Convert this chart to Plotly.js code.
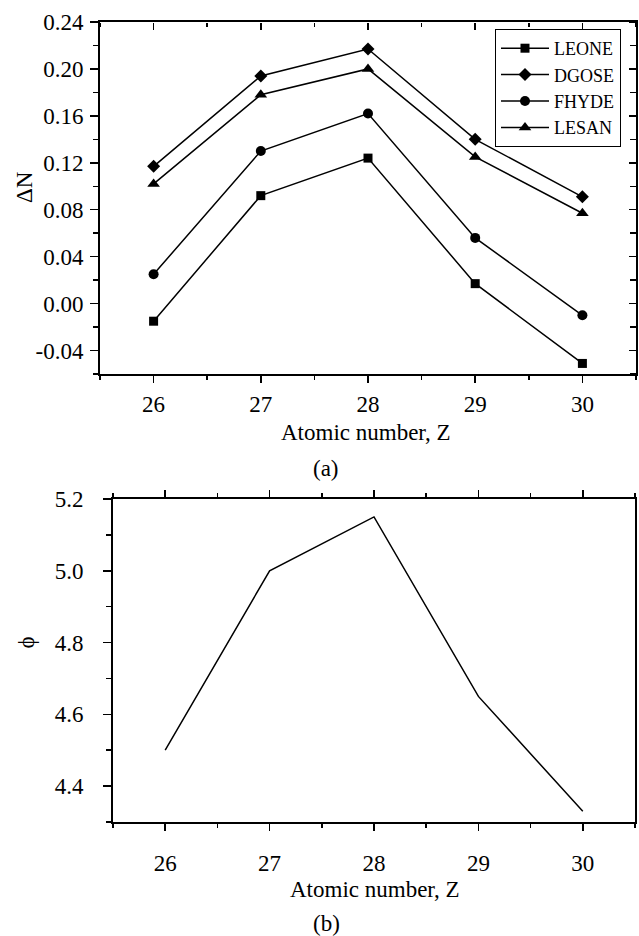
<!DOCTYPE html>
<html>
<head>
<meta charset="utf-8">
<script src="https://cdn.plot.ly/plotly-3.0.1.min.js"></script>
<style>html,body{margin:0;padding:0;background:#fff;}#chart{width:639px;height:936px;}</style>
</head>
<body>
<div id="chart"></div>
<script>
// ---- data ----
const atomicNumber = [26, 27, 28, 29, 30];
const zTickText = ['26', '27', '28', '29', '30'];

const seriesNames = ['LEONE', 'DGOSE', 'FHYDE', 'LESAN'];
const leone = [-0.015, 0.092, 0.124, 0.017, -0.051];
const dgose = [0.117, 0.194, 0.217, 0.140, 0.091];
const fhyde = [0.025, 0.130, 0.162, 0.056, -0.010];
const lesan = [0.102, 0.178, 0.200, 0.125, 0.077];

const dnTickVals = [-0.04, 0.00, 0.04, 0.08, 0.12, 0.16, 0.20, 0.24];
const dnTickText = ['-0.04', '0.00', '0.04', '0.08', '0.12', '0.16', '0.20', '0.24'];

const phi = [4.50, 5.00, 5.15, 4.65, 4.33];
const phiTickVals = [4.4, 4.6, 4.8, 5.0, 5.2];
const phiTickText = ['4.4', '4.6', '4.8', '5.0', '5.2'];

// ---- styling ----
const FONT = 'Liberation Serif, Times New Roman, serif';
const W = 639, H = 936;
const px = v => v / W;
const py = v => 1 - v / H;

const symbols = ['square', 'diamond', 'circle', 'triangle-up'];
const sizes = [9, 10, 10, 11];
const values = [leone, dgose, fhyde, lesan];

const traces = values.map((vals, i) => ({
  type: 'scatter', mode: 'lines+markers',
  x: atomicNumber, y: vals, name: seriesNames[i],
  xaxis: 'x', yaxis: 'y',
  line: {color: '#000', width: 1.5},
  marker: {symbol: symbols[i], size: sizes[i], color: '#000'}
}));

// invisible carrier so the inward-tick top and right axes of panel (a) are drawn
traces.push({type: 'scatter', mode: 'none', x: atomicNumber, y: leone, xaxis: 'x3', yaxis: 'y3',
  showlegend: false, hoverinfo: 'skip'});

traces.push({
  type: 'scatter', mode: 'lines',
  x: atomicNumber, y: phi, name: 'phi', showlegend: false,
  xaxis: 'x2', yaxis: 'y2',
  line: {color: '#000', width: 1.5}
});

const baseAxis = {
  showgrid: false, zeroline: false,
  showline: true, linecolor: '#000', linewidth: 2,
  tickcolor: '#000', tickwidth: 1.5,
  tickfont: {family: FONT, size: 23, color: '#000'},
  fixedrange: true
};
const minorStyle = {tickcolor: '#000', tickwidth: 1.5, showgrid: false};

const layout = {
  width: W, height: H,
  margin: {l: 0, r: 0, t: 0, b: 0},
  paper_bgcolor: '#fff', plot_bgcolor: 'rgba(0,0,0,0)',
  showlegend: true,
  font: {family: FONT, color: '#000'},
  xaxis: Object.assign({}, baseAxis, {
    domain: [px(100), px(636)], anchor: 'y',
    range: [25.5, 30.5], tickmode: 'array', tickvals: atomicNumber, ticktext: zTickText,
    ticks: 'outside', ticklen: 7, mirror: true, ticklabelstandoff: 1,
    minor: Object.assign({ticks: 'outside', ticklen: 4, tickmode: 'linear', tick0: 25.5, dtick: 0.5}, minorStyle)
  }),
  yaxis: Object.assign({}, baseAxis, {
    domain: [py(374), py(22)], anchor: 'x',
    range: [-0.06, 0.24], tickmode: 'array', tickvals: dnTickVals, ticktext: dnTickText,
    ticks: 'outside', ticklen: 8, mirror: true, ticklabelstandoff: 2,
    minor: Object.assign({ticks: 'outside', ticklen: 5, tickmode: 'linear', tick0: 0, dtick: 0.02}, minorStyle)
  }),
  // bottom-side axis placed at the top edge: its outward ticks point down into the frame
  xaxis3: Object.assign({}, baseAxis, {
    domain: [px(100), px(636)], anchor: 'free', position: py(22), side: 'bottom', showline: false,
    range: [25.5, 30.5], tickmode: 'array', tickvals: atomicNumber,
    ticks: 'outside', ticklen: 7, showticklabels: false,
    minor: Object.assign({ticks: 'outside', ticklen: 4, tickmode: 'linear', tick0: 25.5, dtick: 0.5}, minorStyle)
  }),
  // left-side axis placed at the right edge: its outward ticks point left into the frame
  yaxis3: Object.assign({}, baseAxis, {
    domain: [py(374), py(22)], anchor: 'free', position: px(636), side: 'left', showline: false,
    range: [-0.06, 0.24], tickmode: 'array', tickvals: dnTickVals,
    ticks: 'outside', ticklen: 7, showticklabels: false,
    minor: Object.assign({ticks: 'outside', ticklen: 6, tickmode: 'linear', tick0: 0, dtick: 0.02}, minorStyle)
  }),
  xaxis2: Object.assign({}, baseAxis, {
    domain: [px(113), px(635)], anchor: 'y2',
    range: [25.5, 30.5], tickmode: 'array', tickvals: atomicNumber, ticktext: zTickText,
    ticks: 'outside', ticklen: 7, mirror: 'ticks', ticklabelstandoff: 12,
    minor: Object.assign({ticks: 'outside', ticklen: 4, tickmode: 'linear', tick0: 25.5, dtick: 0.5}, minorStyle)
  }),
  yaxis2: Object.assign({}, baseAxis, {
    domain: [py(822), py(499)], anchor: 'x2',
    range: [4.3, 5.2], tickmode: 'array', tickvals: phiTickVals, ticktext: phiTickText,
    ticks: 'outside', ticklen: 8, mirror: true, ticklabelstandoff: 15,
    minor: Object.assign({ticks: 'outside', ticklen: 5, tickmode: 'linear', tick0: 4.3, dtick: 0.1}, minorStyle)
  }),
  legend: {
    x: px(495), y: py(29), xanchor: 'left', yanchor: 'top',
    bgcolor: '#fff', bordercolor: '#000', borderwidth: 1,
    font: {family: FONT, size: 18, color: '#000'},
    itemwidth: 48, tracegroupgap: 0
  },
  annotations: [
    {text: 'Atomic number, Z', x: px(366), y: py(432), xref: 'paper', yref: 'paper',
     showarrow: false, xanchor: 'center', yanchor: 'middle', font: {family: FONT, size: 23, color: '#000'}},
    {text: '(a)', x: px(326), y: py(468), xref: 'paper', yref: 'paper',
     showarrow: false, xanchor: 'center', yanchor: 'middle', font: {family: FONT, size: 23, color: '#000'}},
    {text: 'ΔN', x: px(25), y: py(187), xref: 'paper', yref: 'paper', textangle: -90,
     showarrow: false, xanchor: 'center', yanchor: 'middle', font: {family: FONT, size: 23, color: '#000'}},
    {text: 'Atomic number, Z', x: px(375), y: py(889), xref: 'paper', yref: 'paper',
     showarrow: false, xanchor: 'center', yanchor: 'middle', font: {family: FONT, size: 23, color: '#000'}},
    {text: '(b)', x: px(326), y: py(923), xref: 'paper', yref: 'paper',
     showarrow: false, xanchor: 'center', yanchor: 'middle', font: {family: FONT, size: 23, color: '#000'}},
    {text: 'ϕ', x: px(25.5), y: py(643), xref: 'paper', yref: 'paper', textangle: -90,
     showarrow: false, xanchor: 'center', yanchor: 'middle', font: {family: FONT, size: 23, color: '#000'}}
  ]
};

Plotly.newPlot('chart', traces, layout, {displayModeBar: false, staticPlot: true});
</script>
</body>
</html>
